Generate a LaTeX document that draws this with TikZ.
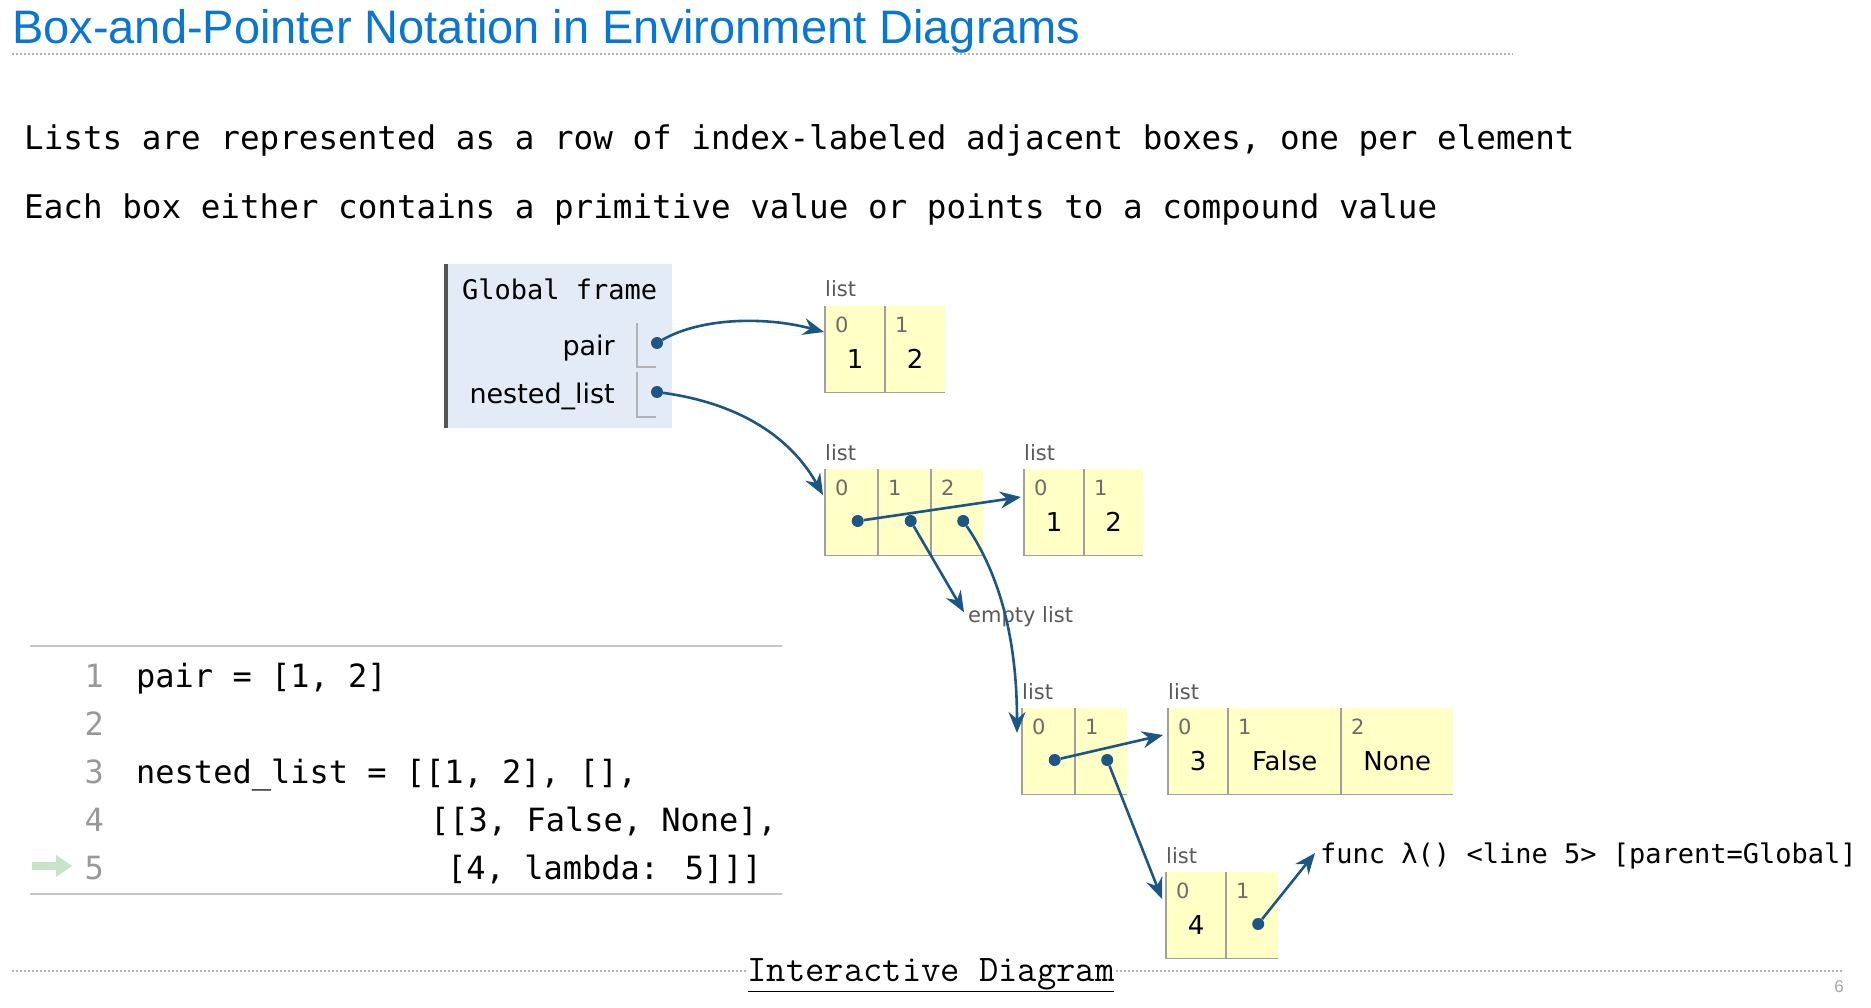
\documentclass[tikz,border=0pt]{standalone}
\usepackage{fontspec}
\usetikzlibrary{arrows.meta}
\newfontfamily\dvsans{DejaVu Sans}
\newfontfamily\dvmono{DejaVu Sans Mono}
\newfontfamily\headfont{Liberation Sans}
\definecolor{titleblue}{RGB}{8,118,210}
\definecolor{framebg}{RGB}{226,235,246}
\definecolor{framegray}{RGB}{85,85,85}
\definecolor{cellyellow}{RGB}{255,255,198}
\definecolor{cellgray}{RGB}{160,160,160}
\definecolor{ptrblue}{RGB}{28,86,133}
\definecolor{rungreen}{RGB}{200,228,200}
\tikzset{
	ptr/.style={draw=ptrblue, line width=2.6pt, -{Stealth[length=21pt, width=17pt, inset=7pt]}},
	ptrdot/.style={circle, fill=ptrblue, inner sep=0pt, minimum size=12pt},
	lcell/.style={fill=cellyellow, inner sep=0pt, minimum width=#1, minimum height=86pt, anchor=north west},
	cellline/.style={draw=cellgray, line width=1.5pt},
	idx/.style={font=\dvsans\fontsize{21}{25}\selectfont, text=gray!85!black, anchor=base west, inner sep=0pt},
	val/.style={font=\dvsans\fontsize{26}{30}\selectfont, anchor=base, inner sep=0pt},
	listtag/.style={font=\dvsans\fontsize{21}{25}\selectfont, text=black!65, anchor=base west, inner sep=0pt},
	monotext/.style={font=\dvmono\fontsize{32.6}{39}\selectfont, anchor=base west, inner sep=0pt},
	codetext/.style={font=\dvmono\fontsize{32}{39}\selectfont, anchor=base west, inner sep=0pt},
	lineno/.style={font=\dvmono\fontsize{32}{39}\selectfont, text=black!40, anchor=base east, inner sep=0pt},
	rule/.style={draw=black!22, line width=1.5pt},
	dotrule/.style={draw=black!30, line width=1.4pt, dash pattern=on 2pt off 2pt},
}
\begin{document}
\begin{tikzpicture}[x=1pt, y=-1pt]
	\useasboundingbox (0,0) rectangle (1871,1008);
	\node[anchor=base west, inner sep=0pt, font=\headfont\fontsize{47}{52}\selectfont, text=titleblue] (title) at (12,44) {Box-and-Pointer Notation in Environment Diagrams};
	\draw[dotrule] (12,54) -- (1513,54);
	\node[monotext] (intro1) at (24,150) {Lists are represented as a row of index-labeled adjacent boxes, one per element};
	\node[monotext] (intro2) at (24,219) {Each box either contains a primitive value or points to a compound value};

	\node[fill=framebg, inner sep=0pt, minimum width=226pt, minimum height=164pt, anchor=north west] (gframe) at (446,264) {};
	\draw[draw=framegray, line width=4pt] (gframe.north west) -- (gframe.south west);
	\node[anchor=base west, inner sep=0pt, font=\dvmono\fontsize{27}{32}\selectfont] (gtitle) at (462,300) {Global frame};
	\node[anchor=base east, inner sep=0pt, font=\dvsans\fontsize{27}{32}\selectfont] (vpair) at (615,355) {pair};
	\node[anchor=base east, inner sep=0pt, font=\dvsans\fontsize{27}{32}\selectfont] (vnest) at (615,403) {nested\_list};
	\draw[draw=black!30, line width=1.5pt] (637,323) -- (637,367) -- (656,367);
	\draw[draw=black!30, line width=1.5pt] (637,372) -- (637,417) -- (656,417);
	\node[ptrdot] (fpair) at (657,343) {};
	\node[ptrdot] (fnest) at (657,392) {};

	\foreach \n/\x/\y/\w/\i/\v in {pa0/825/306/60/0/1, pa1/885/306/60/1/2,
		nl0/825/469/53/0/{}, nl1/878/469/53/1/{}, nl2/931/469/52/2/{},
		sa0/1024/469/60/0/1, sa1/1084/469/59/1/2,
		sl0/1022/708/53/0/{}, sl1/1075/708/52/1/{},
		tl0/1168/708/60/0/3, tl1/1228/708/113/1/False, tl2/1341/708/112/2/None,
		fl0/1166/872/60/0/4, fl1/1226/872/52/1/{}}
	{
		\node[lcell=\w] (\n) at (\x,\y) {};
		\draw[cellline] (\n.north west) -- (\n.south west) -- (\n.south east);
		\node[idx] at ([shift={(10,26)}]\n.north west) {\i};
		\node[val] at ([shift={(0,62)}]\n.north) {\v};
	}
	\foreach \n in {pa0, nl0, sa0, sl0, tl0, fl0}
		\node[listtag] at ([shift={(0,-9)}]\n.north west) {list};

	\node[ptrdot] (dnl0) at ([shift={(6,52)}]nl0.north) {};
	\node[ptrdot] (dnl1) at ([shift={(6,52)}]nl1.north) {};
	\node[ptrdot] (dnl2) at ([shift={(6,52)}]nl2.north) {};
	\node[ptrdot] (dsl0) at ([shift={(6,52)}]sl0.north) {};
	\node[ptrdot] (dsl1) at ([shift={(6,52)}]sl1.north) {};
	\node[ptrdot] (dfl1) at ([shift={(6,52)}]fl1.north) {};

	\node[anchor=base west, inner sep=0pt, font=\dvsans\fontsize{21}{25}\selectfont, text=black!65] (emptylbl) at (968,622) {empty list};
	\node[anchor=base west, inner sep=0pt, font=\dvmono\fontsize{27}{32}\selectfont] (funclbl) at (1320,863) {func λ() <line 5> [parent=Global]};

	\draw[ptr] (fpair) .. controls (700,318) and (764,316) .. ([shift={(-1,26)}]pa0.north west);
	\draw[ptr] (fnest) .. controls (750,405) and (795,445) .. ([shift={(-2,26)}]nl0.north west);
	\draw[ptr] (dnl0) -- ([shift={(-3,28)}]sa0.north west);
	\draw[ptr] (dnl1) -- ([shift={(-4,-4)}]emptylbl.west);
	\draw[ptr] (dnl2) .. controls (1000,575) and (1017,640) .. ([shift={(-5,25)}]sl0.north west);
	\draw[ptr] (dsl0) -- ([shift={(-5,27)}]tl0.north west);
	\draw[ptr] (dsl1) -- ([shift={(-4,27)}]fl0.north west);
	\draw[ptr] (dfl1) -- ([shift={(-5,-10)}]funclbl.base west);

	\draw[rule] (30,646) -- (782,646);
	\draw[rule] (30,894) -- (782,894);
	\node[lineno] (n1) at (104,687) {1};
	\node[lineno] (n2) at (104,735) {2};
	\node[lineno] (n3) at (104,783) {3};
	\node[lineno] (n4) at (104,831) {4};
	\node[lineno] (n5) at (104,879) {5};
	\node[codetext] (c1) at (136,687) {pair = [1, 2]};
	\node[codetext] (c3) at (136,783) {nested\_list = [[1, 2], [],};
	\node[codetext] (c4) at (430,831) {[[3, False, None],};
	\node[codetext] (c5) at (447,879) {[4, lambda: 5]]]};
	\fill[rungreen] (32,862) -- (56,862) -- (56,855) -- (72,866) -- (56,877) -- (56,870) -- (32,870) -- cycle;

	\draw[dotrule] (12,971) -- (1843,971);
	\node[anchor=base, inner sep=0pt, fill=white, font=\ttfamily\fontsize{37.5}{42}\selectfont] (ilink) at (931,981) {\underline{Interactive Diagram}};
	\node[anchor=base, inner sep=0pt, font=\headfont\fontsize{17}{20}\selectfont, text=black!35] (pgno) at (1839,992) {6};
\end{tikzpicture}
\end{document}
